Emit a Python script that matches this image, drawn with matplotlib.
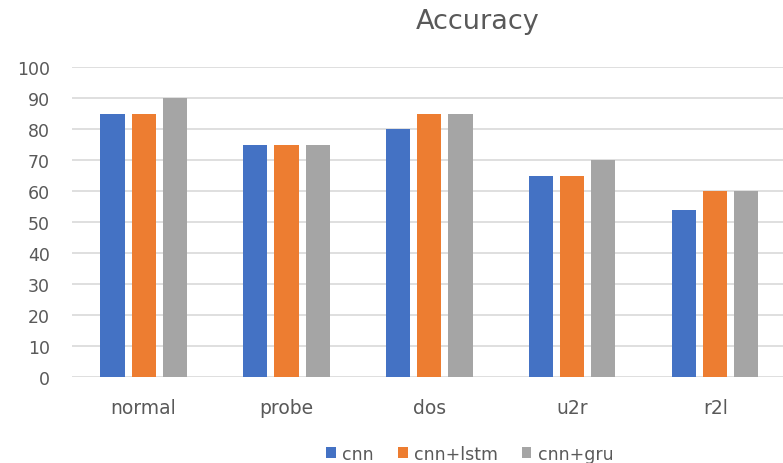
import numpy as np
import matplotlib.pyplot as plt

categories = ['normal', 'probe', 'dos', 'u2r', 'r2l']
cnn = [85, 75, 80, 65, 54]
cnn_lstm = [85, 75, 85, 65, 60]
cnn_gru = [90, 75, 85, 70, 60]

series = [('cnn', cnn, '#4472c4'),
          ('cnn+lstm', cnn_lstm, '#ed7d31'),
          ('cnn+gru', cnn_gru, '#a5a5a5')]

plt.rcParams['font.family'] = ['DejaVu Sans']
txt = '#595959'

fig = plt.figure(figsize=(7.83, 4.64), dpi=100)
ax = fig.add_axes([0.092, 0.185, 0.913, 0.668])

x = np.arange(len(categories))
w = 0.168
step = 0.217
for i, (name, vals, col) in enumerate(series):
    ax.bar(x + (i - 1) * step, vals, width=w, color=col, label=name, zorder=3)

ax.set_xlim(-0.5, len(categories) - 0.5)
ax.set_ylim(0, 100)
ax.set_yticks(np.arange(0, 101, 10))
ax.yaxis.grid(True, color='#d9d9d9', linewidth=1.2, zorder=0)
for s in ax.spines.values():
    s.set_visible(False)
ax.tick_params(axis='both', length=0, colors=txt)
ax.tick_params(axis='y', pad=16, labelsize=12.5)
ax.tick_params(axis='x', pad=15, labelsize=13.5)
ax.set_xticks(x)
ax.set_xticklabels(categories)

fig.text(0.61, 0.953, 'Accuracy', ha='center', va='center', fontsize=19.5, color=txt)

fig.legend(loc='center', bbox_to_anchor=(0.6, 0.02), ncol=3, frameon=False,
           handlelength=0.55, handleheight=0.55, handletextpad=0.35, columnspacing=1.4,
           fontsize=12.5, labelcolor=txt)

fig.savefig('out.png', dpi=100)
